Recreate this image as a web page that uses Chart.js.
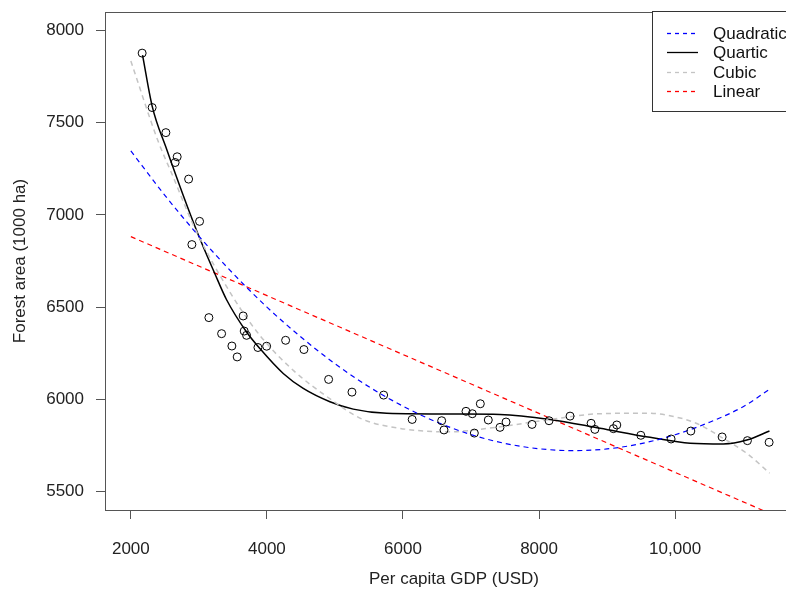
<!DOCTYPE html>
<html>
<head>
<meta charset="utf-8">
<script src="https://cdn.jsdelivr.net/npm/chart.js@4/dist/chart.umd.min.js"></script>
<style>
  body { margin: 0; background: #fff; }
  #wrap { width: 786px; height: 590px; overflow: hidden; }
</style>
</head>
<body>
<div id="wrap"><canvas id="fitChart" width="820" height="590"></canvas></div>
<script>
// observed data (per capita GDP vs forest area)
const gdp = [2166, 2313, 2515, 2681, 2651, 2849, 3010, 2897, 3147, 3334, 3485, 3563, 3651, 3666, 3701,
  3868, 3996, 4275, 4544, 4907, 5250, 5716, 6135, 6569, 6603, 6926, 7019, 7137, 7049, 7254,
  7426, 7515, 7897, 8147, 8456, 8765, 8821, 9093, 9143, 9496, 9941, 10231, 10691, 11063, 11382];
const forest = [7877, 7582, 7446, 7315, 7284, 7194, 6965, 6839, 6443, 6356, 6289, 6230, 6452, 6370, 6347,
  6281, 6288, 6320, 6270, 6108, 6039, 6023, 5891, 5884, 5834, 5935, 5922, 5976, 5817, 5888,
  5848, 5877, 5864, 5884, 5909, 5870, 5837, 5841, 5861, 5805, 5785, 5828, 5796, 5776, 5767];

// fitted curves
const quadX = [2000, 2500, 3000, 3500, 4000, 4500, 5000, 5500, 6000, 6500, 7000, 7500, 8000, 8500, 9000, 9500, 10000, 10500, 11000, 11390];
const quadY = [7347, 7106, 6885, 6683, 6500, 6338, 6193, 6068, 5963, 5876, 5809, 5761, 5732, 5722, 5731, 5760, 5808, 5875, 5960, 6055];

const quartX = [2172, 2313, 2525, 2966, 3235, 3407, 3701, 3897, 4240, 4534, 4926, 5269, 5760, 6838, 7426, 8162, 8897, 9632, 10221, 10710, 11054, 11387];
const quartY = [7866, 7590, 7357, 6915, 6681, 6540, 6365, 6275, 6140, 6059, 5987, 5947, 5924, 5920, 5918, 5891, 5843, 5794, 5762, 5758, 5779, 5828];

const cubicX = [2000, 2400, 2600, 2950, 3500, 3900, 4400, 4900, 5400, 5950, 6650, 7400, 8150, 8900, 9600, 10000, 10300, 10700, 11050, 11390];
const cubicY = [7834, 7400, 7225, 6920, 6555, 6345, 6153, 6010, 5893, 5843, 5824, 5850, 5890, 5922, 5925, 5905, 5872, 5790, 5708, 5600];

const linX = [2000, 11390];
const linY = [6882, 5382];

const xTicks = [2000, 4000, 6000, 8000, 10000];
const yTicks = [5500, 6000, 6500, 7000, 7500, 8000];

// 범례 (원본 순서)
const legendNames = ['Quadratic', 'Quartic', 'Cubic', 'Linear'];
const legendColors = ['#0000ff', '#000000', '#c4c4c4', '#ff0000'];
const legendDash = [[4, 4], [], [4, 4], [4, 4]];

const FONT = 'Arial, "Liberation Sans", sans-serif';

function toPoints(xs, ys) {
  return xs.map((x, i) => ({ x: x, y: ys[i] }));
}

function curve(label, xs, ys, color, dash, width) {
  return {
    label: label,
    data: toPoints(xs, ys),
    showLine: true,
    borderColor: color,
    borderWidth: width,
    borderDash: dash,
    pointRadius: 0,
    fill: false,
    cubicInterpolationMode: 'monotone'
  };
}

// 플롯 테두리 + R 스타일 범례
const framePlugin = {
  id: 'frame',
  afterDraw(chart) {
    const ctx = chart.ctx;
    const a = chart.chartArea;
    ctx.save();
    ctx.strokeStyle = '#555';
    ctx.lineWidth = 1;
    ctx.strokeRect(Math.round(a.left) + 0.5, Math.round(a.top) + 0.5, Math.round(a.right - a.left), Math.round(a.bottom - a.top));

    // legend box
    const lx = 652, ly = 11, lw = 160, lh = 100;
    ctx.fillStyle = '#fff';
    ctx.fillRect(lx, ly, lw, lh);
    ctx.strokeStyle = '#333';
    ctx.strokeRect(lx + 0.5, ly + 0.5, lw, lh);
    const rows = [33, 52, 72, 91];
    ctx.font = '17px ' + FONT;
    ctx.textBaseline = 'middle';
    legendNames.forEach((name, i) => {
      ctx.beginPath();
      ctx.setLineDash(legendDash[i]);
      ctx.strokeStyle = legendColors[i];
      ctx.lineWidth = 1.3;
      ctx.moveTo(667, rows[i] + 0.5);
      ctx.lineTo(698, rows[i] + 0.5);
      ctx.stroke();
      ctx.setLineDash([]);
      ctx.fillStyle = '#111';
      ctx.fillText(name, 713, rows[i] + 1);
    });
    ctx.restore();
  }
};

new Chart(document.getElementById('fitChart'), {
  type: 'scatter',
  data: {
    datasets: [
      {
        label: 'Data',
        data: toPoints(gdp, forest),
        pointRadius: 4,
        pointBorderColor: '#000',
        pointBackgroundColor: 'rgba(0,0,0,0)',
        pointBorderWidth: 1,
        showLine: false
      },
      curve('Quadratic', quadX, quadY, '#0000ff', [5, 4], 1.2),
      curve('Cubic', cubicX, cubicY, '#c4c4c4', [5, 4], 1.5),
      curve('Quartic', quartX, quartY, '#000000', [], 1.5),
      curve('Linear', linX, linY, '#ff0000', [5, 4], 1.2)
    ]
  },
  options: {
    responsive: false,
    animation: false,
    devicePixelRatio: 1,
    layout: { padding: { left: 0, top: 12, right: 17, bottom: 0 } },
    plugins: {
      legend: { display: false },
      tooltip: { enabled: false }
    },
    scales: {
      x: {
        type: 'linear',
        min: 1620,
        max: 11880,
        afterBuildTicks: s => { s.ticks = xTicks.map(v => ({ value: v })); },
        afterFit: s => { s.height = 80; s.paddingLeft = 0; s.paddingRight = 0; },
        grid: { drawOnChartArea: false, drawTicks: true, tickLength: 9, color: '#555' },
        border: { display: false },
        ticks: {
          padding: 20,
          color: '#222',
          font: { family: FONT, size: 17 },
          maxRotation: 0,
          callback: v => v === 10000 ? '10,000' : String(v)
        },
        title: {
          display: true,
          text: 'Per capita GDP (USD)',
          color: '#222',
          font: { family: FONT, size: 17 },
          padding: { top: 0, bottom: 0 }
        }
      },
      y: {
        type: 'linear',
        min: 5400,
        max: 8100,
        afterBuildTicks: s => { s.ticks = yTicks.map(v => ({ value: v })); },
        afterFit: s => { s.width = 105; s.paddingTop = 0; s.paddingBottom = 0; },
        grid: { drawOnChartArea: false, drawTicks: true, tickLength: 9, color: '#555' },
        border: { display: false },
        ticks: {
          padding: 12,
          color: '#222',
          font: { family: FONT, size: 17 },
          callback: v => String(v)
        },
        title: {
          display: true,
          text: 'Forest area (1000 ha)',
          color: '#222',
          font: { family: FONT, size: 17 },
          padding: { top: 10, bottom: 0 }
        }
      }
    }
  },
  plugins: [framePlugin]
});
</script>
</body>
</html>
